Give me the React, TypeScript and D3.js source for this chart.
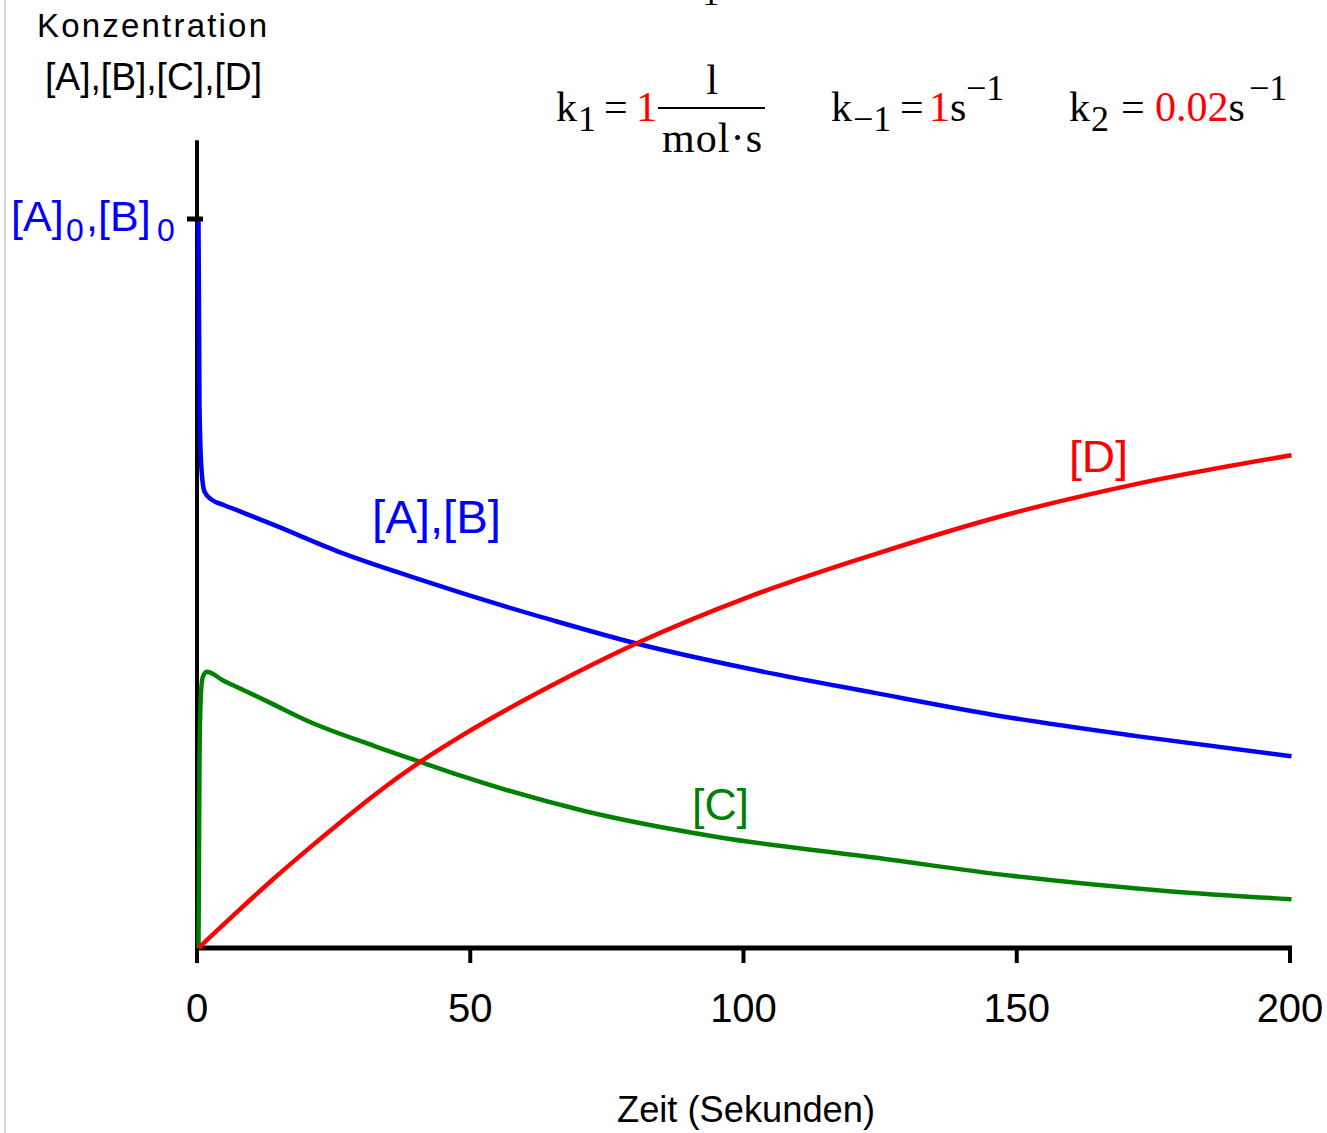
import React from "react";
import * as d3 from "d3";

// ---- data ----
const xTicks = [0, 50, 100, 150, 200];

const abTime = [0, 0.18, 0.55, 1.1, 2.4, 4.5, 7.9, 13.9, 26.2, 40.3, 48.1, 64.6, 80.5, 100.1, 123.7, 146.9, 171.3, 200];
const abConc = [1.0, 0.745, 0.656, 0.626, 0.615, 0.608, 0.598, 0.58, 0.542, 0.506, 0.487, 0.45, 0.417, 0.384, 0.35, 0.318, 0.291, 0.263];

const cTime = [0, 0.18, 0.45, 0.8, 1.5, 4.5, 7.9, 12.4, 20.1, 32.2, 40.3, 48.1, 70.6, 95.2, 123.7, 148.8, 177.5, 200];
const cConc = [0, 0.258, 0.35, 0.372, 0.379, 0.367, 0.355, 0.339, 0.311, 0.277, 0.256, 0.236, 0.188, 0.152, 0.124, 0.099, 0.078, 0.067];

const dTime = [0, 7.87, 13.9, 20.1, 26.2, 32.2, 40.3, 48.1, 64.6, 80.5, 100.1, 123.7, 148.2, 171.3, 200];
const dConc = [0, 0.055, 0.096, 0.136, 0.174, 0.21, 0.254, 0.291, 0.36, 0.419, 0.48, 0.54, 0.595, 0.636, 0.676];

const W = 1327;
const H = 1133;

const SANS = "'Liberation Sans', Arial, sans-serif";
const SERIF = "'Liberation Serif', 'Times New Roman', serif";

export default function App() {
  const x = d3.scaleLinear().domain([0, 200]).range([197, 1290]);
  const y = d3.scaleLinear().domain([0, 1]).range([948, 219]);

  const line = d3
    .line<[number, number]>()
    .x((d) => x(d[0]) + 1.5)
    .y((d) => y(d[1]))
    .curve(d3.curveMonotoneX);

  const zip = (t: number[], c: number[]) => t.map((v, i) => [v, c[i]] as [number, number]);

  const series = [
    { pts: zip(cTime, cConc), color: "#008000" },
    { pts: zip(abTime, abConc), color: "#0000ff" },
    { pts: zip(dTime, dConc), color: "#ff0000" },
  ];

  return (
    <svg
      width={W}
      height={H}
      viewBox={`0 0 ${W} ${H}`}
      style={{ position: "absolute", left: 0, top: 0, display: "block", background: "#fff" }}
    >
      <rect x={0} y={0} width={W} height={H} fill="#fff" />
      {/* left page border */}
      <line x1={5} x2={5} y1={0} y2={H} stroke="#c8c8c8" strokeWidth={1.5} />

      {/* cut-off fragment at the top */}
      <text x={683} y={5} fontFamily={SERIF} fontSize={34} fill="#000">
        −1
      </text>

      {/* y-axis title */}
      <text x={37} y={37} fontFamily={SANS} fontSize={33} textLength={230} lengthAdjust="spacing" fill="#000">
        Konzentration
      </text>
      <text x={45} y={90} fontFamily={SANS} fontSize={38} textLength={217} lengthAdjust="spacingAndGlyphs" fill="#000">
        [A],[B],[C],[D]
      </text>

      {/* [A]0,[B]0 label */}
      <text fontFamily={SANS} fill="#0000ff">
        <tspan x={11} y={231} fontSize={43}>[A]</tspan>
        <tspan x={66} y={241} fontSize={32}>0</tspan>
        <tspan x={86} y={231} fontSize={43}>,</tspan>
        <tspan x={98} y={231} fontSize={43}>[B]</tspan>
        <tspan x={157} y={241} fontSize={32}>0</tspan>
      </text>

      {/* formula */}
      <g fontFamily={SERIF} fill="#000">
        <text x={556} y={121} fontSize={42}>k</text>
        <text x={578} y={131} fontSize={36}>1</text>
        <text x={604} y={121} fontSize={42}>=</text>
        <text x={636} y={121} fontSize={42} fill="#ff0000">1</text>
        <line x1={658} x2={765} y1={108} y2={108} stroke="#000" strokeWidth={2} />
        <text x={712} y={94} fontSize={42} textAnchor="middle">l</text>
        <text x={662} y={152} fontSize={42} textLength={100} lengthAdjust="spacing">mol·s</text>

        <text x={831} y={121} fontSize={42}>k</text>
        <text x={853} y={131} fontSize={36}>−1</text>
        <text x={900} y={121} fontSize={42}>=</text>
        <text x={929} y={121} fontSize={42}>
          <tspan fill="#ff0000">1</tspan>
          <tspan>s</tspan>
        </text>
        <text x={966} y={100} fontSize={36}>−1</text>

        <text x={1069} y={121} fontSize={42}>k</text>
        <text x={1091} y={131} fontSize={36}>2</text>
        <text x={1121} y={121} fontSize={42}>=</text>
        <text x={1155} y={121} fontSize={42}>
          <tspan fill="#ff0000">0.02</tspan>
          <tspan>s</tspan>
        </text>
        <text x={1249} y={100} fontSize={36}>−1</text>
      </g>

      {/* axes */}
      <line x1={x(0)} x2={x(0)} y1={y(1.108)} y2={y(0) + 2} stroke="#000" strokeWidth={4} />
      <line x1={x(0) - 2} x2={x(200) + 2} y1={y(0)} y2={y(0)} stroke="#000" strokeWidth={5} />
      {xTicks.map((t) => (
        <g key={t}>
          <line x1={x(t)} x2={x(t)} y1={y(0)} y2={y(0) + 15} stroke="#000" strokeWidth={4} />
          <text x={x(t)} y={1022} fontFamily={SANS} fontSize={40} textAnchor="middle" fill="#000">
            {t}
          </text>
        </g>
      ))}

      {/* curves */}
      {series.map((s, i) => (
        <path
          key={i}
          d={line(s.pts) || ""}
          fill="none"
          stroke={s.color}
          strokeWidth={4.5}
          strokeLinejoin="round"
        />
      ))}

      {/* y tick for [A]0,[B]0 */}
      <line x1={x(0) - 10} x2={x(0) + 6} y1={y(1)} y2={y(1)} stroke="#000" strokeWidth={5} />

      {/* x-axis title */}
      <text x={617} y={1122} fontFamily={SANS} fontSize={36} textLength={258} lengthAdjust="spacingAndGlyphs" fill="#000">
        Zeit (Sekunden)
      </text>

      {/* series labels */}
      <text x={372} y={533} fontFamily={SANS} fontSize={46} textLength={129} lengthAdjust="spacingAndGlyphs" fill="#0000ff">
        [A],[B]
      </text>
      <text x={692} y={820} fontFamily={SANS} fontSize={45} textLength={57} lengthAdjust="spacingAndGlyphs" fill="#008000">
        [C]
      </text>
      <text x={1069} y={472} fontFamily={SANS} fontSize={45} textLength={59} lengthAdjust="spacingAndGlyphs" fill="#ff0000">
        [D]
      </text>
    </svg>
  );
}
